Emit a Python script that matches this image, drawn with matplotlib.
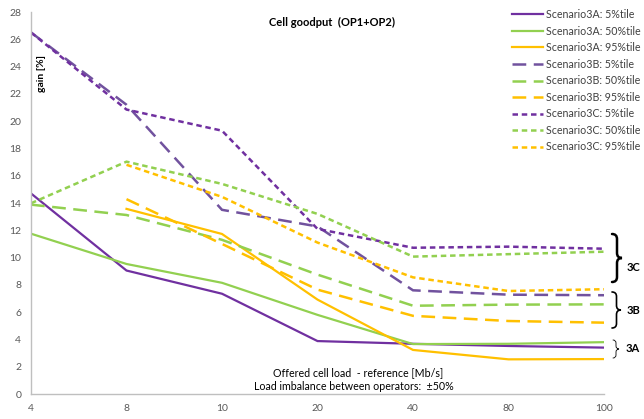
import numpy as np
import matplotlib
matplotlib.use("Agg")
import matplotlib.pyplot as plt
from matplotlib.path import Path
from matplotlib.patches import PathPatch
from matplotlib.transforms import Affine2D

plt.rcParams["font.family"] = ["Lato", "DejaVu Sans"]

nan = np.nan
loads = ["4", "8", "10", "20", "40", "80", "100"]

# gain [%] per offered load
a5 = [14.7, 9.05, 7.35, 3.88, 3.68, 3.52, 3.40]
a50 = [11.75, 9.53, 8.15, 5.8, 3.66, 3.68, 3.8]
a95 = [nan, 13.57, 11.73, 6.92, 3.23, 2.54, 2.56]
b5 = [26.5, 21.2, 13.5, 12.28, 7.6, 7.28, 7.24]
b50 = [13.88, 13.12, 11.3, 8.75, 6.47, 6.55, 6.57]
b95 = [nan, 14.28, 11.0, 7.65, 5.73, 5.35, 5.23]
c5 = [26.5, 20.85, 19.3, 12.1, 10.72, 10.8, 10.65]
c50 = [13.98, 17.03, 15.4, 13.2, 10.07, 10.25, 10.43]
c95 = [nan, 16.8, 14.45, 11.1, 8.55, 7.55, 7.68]

PURPLE, GREEN, ORANGE = "#7030A0", "#92D050", "#FFC000"
LONG = (0, (5.5, 3))
SHORT = (0, (2.2, 1.5))

series = [
    ("Scenario3A: 5%tile", a5, PURPLE, "-", 1.6),
    ("Scenario3A: 50%tile", a50, GREEN, "-", 1.6),
    ("Scenario3A: 95%tile", a95, ORANGE, "-", 1.6),
    ("Scenario3B: 5%tile", b5, "#71529E", LONG, 1.8),
    ("Scenario3B: 50%tile", b50, GREEN, LONG, 1.8),
    ("Scenario3B: 95%tile", b95, ORANGE, LONG, 1.8),
    ("Scenario3C: 5%tile", c5, PURPLE, SHORT, 1.8),
    ("Scenario3C: 50%tile", c50, GREEN, SHORT, 1.8),
    ("Scenario3C: 95%tile", c95, ORANGE, SHORT, 1.8),
]

W, H = 644, 419
fig = plt.figure(figsize=(W / 100, H / 100), dpi=100)
ax = fig.add_axes([31 / W, 1 - 394 / H, (604 - 31) / W, (394 - 12) / H])

x = np.arange(len(loads))
for name, vals, col, ls, lw in series:
    ax.plot(x, vals, color=col, linestyle=ls, linewidth=lw, label=name,
            solid_joinstyle="miter", dash_joinstyle="miter")

ax.set_xlim(0, len(loads) - 1)
ax.set_ylim(0, 28)
ax.set_yticks(range(0, 29, 2))
ax.set_xticks(x)
ax.set_xticklabels(loads)
ax.tick_params(length=0, labelsize=7.5, colors="#595959", pad=7)
for s in ["top", "right"]:
    ax.spines[s].set_visible(False)
for s in ["left", "bottom"]:
    ax.spines[s].set_color("#BFBFBF")
    ax.spines[s].set_linewidth(1)

ax.text(11 / 573, (394 - 73) / 382, "gain [%]", transform=ax.transAxes,
        rotation=90, fontsize=7.5, fontweight="bold", ha="center", va="center")
fig.text(332 / W, 1 - 22 / H, "Cell goodput  (OP1+OP2)", fontsize=8,
         fontweight="bold", ha="center", va="center")
fig.text(358 / W, 1 - 373 / H, "Offered cell load  - reference [Mb/s]",
         fontsize=7.7, ha="center", va="center")
fig.text(354 / W, 1 - 386 / H, "Load imbalance between operators:  \u00b150%",
         fontsize=7.7, ha="center", va="center")

leg = ax.legend(loc="upper left", bbox_to_anchor=(512 / W, 1 - 9 / H),
                bbox_transform=fig.transFigure, frameon=False, fontsize=7.7,
                handlelength=2.9, handletextpad=0.25, labelspacing=0.52,
                borderpad=0, borderaxespad=0)
for t in leg.get_texts():
    t.set_color("#404040")

# braces grouping the scenarios at the right (figure pixel coords, y down)
px = Affine2D().scale(1 / W, -1 / H).translate(0, 1) + fig.transFigure


def brace(x0, y0, y1, w, lw):
    xm, ym, r = x0 + w / 2, (y0 + y1) / 2, w / 2
    verts = [(x0, y0), (xm, y0), (xm, y0 + r), (xm, ym - r), (xm, ym),
             (x0 + w, ym), (xm, ym), (xm, ym + r), (xm, y1 - r), (xm, y1),
             (x0, y1)]
    codes = [Path.MOVETO, Path.CURVE3, Path.CURVE3, Path.LINETO, Path.CURVE3,
             Path.CURVE3, Path.CURVE3, Path.CURVE3, Path.LINETO, Path.CURVE3,
             Path.CURVE3]
    fig.patches.append(PathPatch(Path(verts, codes), transform=px, fill=False,
                                 lw=lw, color="black", capstyle="round"))


brace(612, 234, 282, 10, 1.8)
brace(612, 292, 328, 9, 1.2)
brace(613, 340, 358, 6, 0.6)
for lab, yc in [("3C", 267), ("3B", 310), ("3A", 348)]:
    fig.text(633 / W, 1 - yc / H, lab, fontsize=8, fontweight="bold",
             ha="center", va="center")

fig.savefig("out.png", dpi=100)
